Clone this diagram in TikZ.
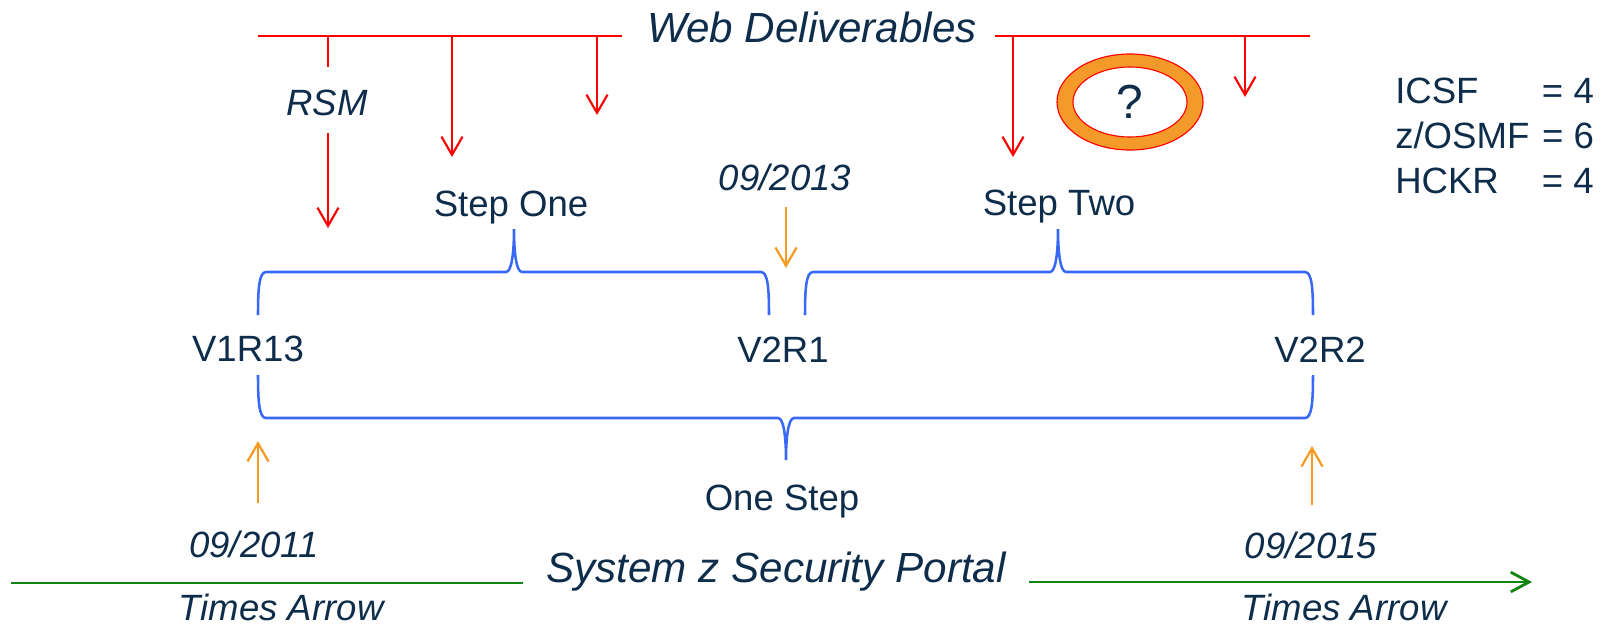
\documentclass[tikz,border=0pt]{standalone}
\usepackage{fontspec}
\setmainfont{Liberation Sans}
\usetikzlibrary{arrows.meta}
\definecolor{navy}{RGB}{14,45,74}
\definecolor{dateorange}{RGB}{245,155,35}
\definecolor{ringorange}{RGB}{244,154,43}
\definecolor{braceblue}{RGB}{58,104,246}
\definecolor{timegreen}{RGB}{18,132,18}
\tikzset{
  txt/.style={text=navy, font=\fontsize{26}{32}\selectfont, anchor=base, inner sep=0pt},
  ittxt/.style={txt, font=\fontsize{26}{32}\selectfont\itshape},
  title/.style={txt, font=\fontsize{30}{36}\selectfont\itshape},
  deliv/.style={red, line width=1.5pt},
  delivarrow/.style={deliv, -{Straight Barb[length=13pt,width=15pt]}},
  datearrow/.style={dateorange, line width=1.6pt, -{Straight Barb[length=13pt,width=15pt]}},
  brace/.style={braceblue, line width=1.8pt},
  timeline/.style={timegreen, line width=2pt}
}
\begin{document}
\begin{tikzpicture}[x=0.025cm, y=-0.025cm]
	\useasboundingbox (0,0) rectangle (1610,627);
	% % Web deliverables bus
	\coordinate (busL) at (258,36);
	\coordinate (busR) at (1310,36);
	\node[title] (web) at (812,42) {Web Deliverables};
	\draw[deliv, shorten >=18pt] (busL) -- (web.west |- busL);
	\draw[deliv, shorten <=13pt] (web.east |- busR) -- (busR);
	% % RSM drop
	\node[ittxt] (rsm) at (327,115) {RSM};
	\coordinate (rsmA) at (328,36);
	\coordinate (rsmB) at (328,67);
	\coordinate (rsmC) at (328,133);
	\coordinate (rsmD) at (328,228);
	\draw[deliv] (rsmA) -- (rsmB);
	\draw[delivarrow] (rsmC) -- (rsmD);
	% % other drops
	\foreach \x/\y [count=\i] in {452/157, 597/115, 1013/157, 1245/97}{
		\coordinate (drop\i a) at (\x,36);
		\coordinate (drop\i b) at (\x,\y);
		\draw[delivarrow] (drop\i a) -- (drop\i b);
	}
	% % question ring
	\draw[red, line width=0.8pt, fill=ringorange, even odd rule]
		(1130,102) ellipse [x radius=1.825cm, y radius=1.2cm]
		(1130,102) ellipse [x radius=1.425cm, y radius=0.875cm];
	\node[txt, font=\fontsize{34}{40}\selectfont] (ask) at (1130,118) {?};
	% % tally
	\node[txt, anchor=base west] (tally) at (1395,103)
		{\begin{tabular}[t]{@{}l@{\hspace{9pt}}l@{}}
			ICSF & = 4\\
			z/OSMF & = 6\\
			HCKR & = 4
		\end{tabular}};
	% % steps and releases
	\node[txt] (stepone) at (511,216) {Step One};
	\node[txt] (steptwo) at (1059,215) {Step Two};
	\node[ittxt] (d2013) at (785,190) {09/2013};
	\node[txt] (v1r13) at (248,361) {V1R13};
	\node[txt] (v2r1) at (783,362) {V2R1};
	\node[txt] (v2r2) at (1320,362) {V2R2};
	\node[txt] (onestep) at (782,510) {One Step};
	\node[ittxt] (d2011) at (254,557) {09/2011};
	\node[ittxt] (d2015) at (1311,558) {09/2015};
	% % braces
	\foreach \xa/\xc/\xb/\e/\h/\t in {258/514/769/315/272/229, 805/1058/1313/315/272/229, 258/786/1313/375/418/460}{
		\draw[brace] (\xa,\e) .. controls (\xa,{\h+0.4*(\e-\h)}) and (\xa+1,\h) .. (\xa+8,\h)
			-- (\xc-8,\h) .. controls (\xc-2,\h) and (\xc,{\h+0.5*(\t-\h)}) .. (\xc,\t)
			.. controls (\xc,{\h+0.5*(\t-\h)}) and (\xc+2,\h) .. (\xc+8,\h)
			-- (\xb-8,\h) .. controls (\xb-1,\h) and (\xb,{\h+0.4*(\e-\h)}) .. (\xb,\e);
	}
	% % date arrows
	\coordinate (m2013a) at (786,207);
	\coordinate (m2013b) at (786,268);
	\coordinate (m2011a) at (258,503);
	\coordinate (m2011b) at (258,441);
	\coordinate (m2015a) at (1312,505);
	\coordinate (m2015b) at (1312,446);
	\draw[datearrow] (m2013a) -- (m2013b);
	\draw[datearrow] (m2011a) -- (m2011b);
	\draw[datearrow] (m2015a) -- (m2015b);
	% % time line
	\node[title] (portal) at (776,582) {System z Security Portal};
	\coordinate (timeL) at (11,583);
	\coordinate (timeR) at (1532,582);
	\draw[timeline, shorten >=16pt] (timeL) -- (portal.west |- timeL);
	\draw[timeline, shorten <=16pt, -{Straight Barb[length=13pt,width=14pt]}] (portal.east |- timeR) -- (timeR);
	\node[ittxt] (timesL) at (281,620) {Times Arrow};
	\node[ittxt] (timesR) at (1344,620) {Times Arrow};
\end{tikzpicture}
\end{document}
